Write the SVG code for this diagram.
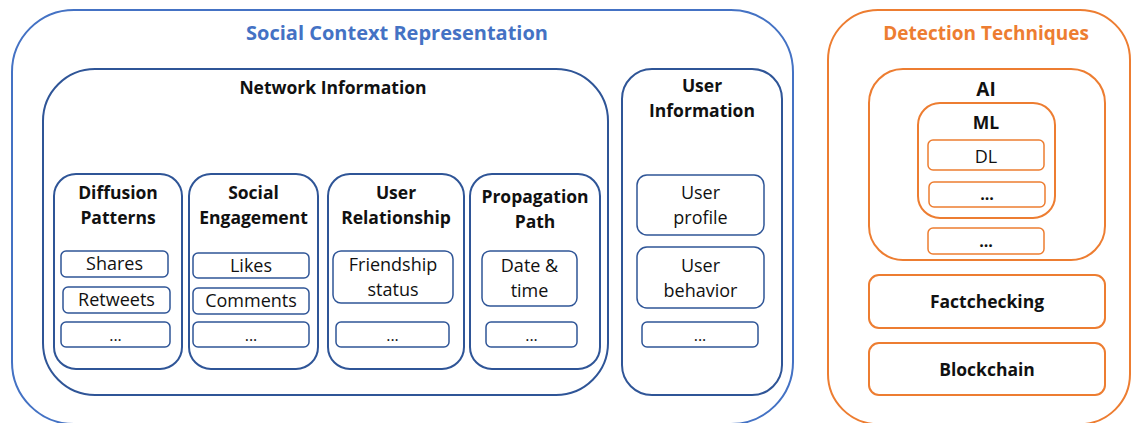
<svg xmlns="http://www.w3.org/2000/svg" width="1131" height="423" viewBox="0 0 1131 423">
<style>
text{font-family:"Open Sans","Noto Sans","Liberation Sans",sans-serif;text-anchor:middle;fill:#111}
.h{font-weight:bold;font-size:17.5px}
.i{font-size:18px}
.t{font-weight:bold;font-size:20px}
.outerB{fill:#fff;stroke:#4472C4;stroke-width:2}
.box{fill:#fff;stroke:#2F5597;stroke-width:2}
.item{fill:#fff;stroke:#2F5597;stroke-width:1.5}
.outerO{fill:#fff;stroke:#ED7D31;stroke-width:2}
.boxO{fill:#fff;stroke:#ED7D31;stroke-width:2}
.itemO{fill:#fff;stroke:#ED7D31;stroke-width:1.5}
</style>
<rect width="1131" height="423" fill="#fff"/>
<g id="social-context">
<rect class="outerB" x="12" y="10" width="781" height="414" rx="62"/>
<text class="t" x="397" y="40" style="fill:#4472C4">Social Context Representation</text>
</g>
<g id="network-information">
<rect class="box" x="43" y="69" width="565" height="326" rx="52"/>
<text class="h" x="333" y="94">Network Information</text>
</g>
<g id="diffusion-patterns">
<rect class="box" x="54" y="174" width="128" height="195" rx="22"/>
<text class="h" x="118" y="199">Diffusion</text>
<text class="h" x="118" y="224">Patterns</text>
<rect class="item" x="61" y="251" width="107" height="26" rx="5"/>
<text class="i" x="114.5" y="270">Shares</text>
<rect class="item" x="63" y="287" width="107" height="26" rx="5"/>
<text class="i" x="116.5" y="306">Retweets</text>
<rect class="item" x="61" y="322" width="109" height="25" rx="5"/>
<text class="i" x="115.5" y="341" style="font-size:16px">...</text>
</g>
<g id="social-engagement">
<rect class="box" x="189" y="174" width="129" height="195" rx="22"/>
<text class="h" x="253.5" y="199">Social</text>
<text class="h" x="253.5" y="224">Engagement</text>
<rect class="item" x="193" y="253" width="116" height="25" rx="5"/>
<text class="i" x="251" y="272">Likes</text>
<rect class="item" x="193" y="288" width="116" height="26" rx="5"/>
<text class="i" x="251" y="307">Comments</text>
<rect class="item" x="193" y="322" width="116" height="25" rx="5"/>
<text class="i" x="251" y="341" style="font-size:16px">...</text>
</g>
<g id="user-relationship">
<rect class="box" x="328" y="174" width="136" height="195" rx="22"/>
<text class="h" x="396" y="199">User</text>
<text class="h" x="396" y="224">Relationship</text>
<rect class="item" x="333" y="251" width="120" height="52" rx="8"/>
<text class="i" x="393" y="271">Friendship</text>
<text class="i" x="393" y="296">status</text>
<rect class="item" x="336" y="322" width="113" height="25" rx="5"/>
<text class="i" x="392.5" y="341" style="font-size:16px">...</text>
</g>
<g id="propagation-path">
<rect class="box" x="470" y="174" width="130" height="195" rx="22"/>
<text class="h" x="535" y="203">Propagation</text>
<text class="h" x="535" y="228">Path</text>
<rect class="item" x="482" y="251" width="95" height="55" rx="8"/>
<text class="i" x="529.5" y="272">Date &amp;</text>
<text class="i" x="529.5" y="297">time</text>
<rect class="item" x="486" y="322" width="91" height="25" rx="5"/>
<text class="i" x="531.5" y="341" style="font-size:16px">...</text>
</g>
<g id="user-information">
<rect class="box" x="622" y="69" width="160" height="326" rx="30"/>
<text class="h" x="702" y="92">User</text>
<text class="h" x="702" y="117">Information</text>
<rect class="item" x="637" y="175" width="127" height="60" rx="10"/>
<text class="i" x="700.5" y="199">User</text>
<text class="i" x="700.5" y="224">profile</text>
<rect class="item" x="637" y="247" width="127" height="61" rx="10"/>
<text class="i" x="700.5" y="272">User</text>
<text class="i" x="700.5" y="297">behavior</text>
<rect class="item" x="642" y="322" width="116" height="25" rx="5"/>
<text class="i" x="700" y="341" style="font-size:16px">...</text>
</g>
<g id="detection-techniques">
<rect class="outerO" x="828" y="10" width="302" height="414" rx="50"/>
<text class="t" x="986" y="40" style="fill:#ED7D31;font-size:19px">Detection Techniques</text>
</g>
<g id="ai">
<rect class="boxO" x="869" y="69" width="236" height="191" rx="34"/>
<text class="h" x="986" y="96" style="font-size:19px">AI</text>
</g>
<g id="ml">
<rect class="boxO" x="918" y="103" width="137" height="115" rx="22"/>
<text class="h" x="986" y="129">ML</text>
<rect class="itemO" x="928" y="140" width="116" height="30" rx="5"/>
<text class="i" x="986" y="163">DL</text>
<rect class="itemO" x="929" y="182" width="116" height="25" rx="5"/>
<text class="h" x="987" y="200" style="font-size:16px">...</text>
</g>
<g id="ai-other">
<rect class="itemO" x="928" y="228" width="116" height="26" rx="5"/>
<text class="h" x="986" y="247" style="font-size:16px">...</text>
</g>
<g id="factchecking">
<rect class="boxO" x="869" y="275" width="236" height="53" rx="10"/>
<text class="h" x="987" y="308">Factchecking</text>
</g>
<g id="blockchain">
<rect class="boxO" x="869" y="343" width="236" height="52" rx="10"/>
<text class="h" x="987" y="376">Blockchain</text>
</g>
<g id="connectors"/>
</svg>
